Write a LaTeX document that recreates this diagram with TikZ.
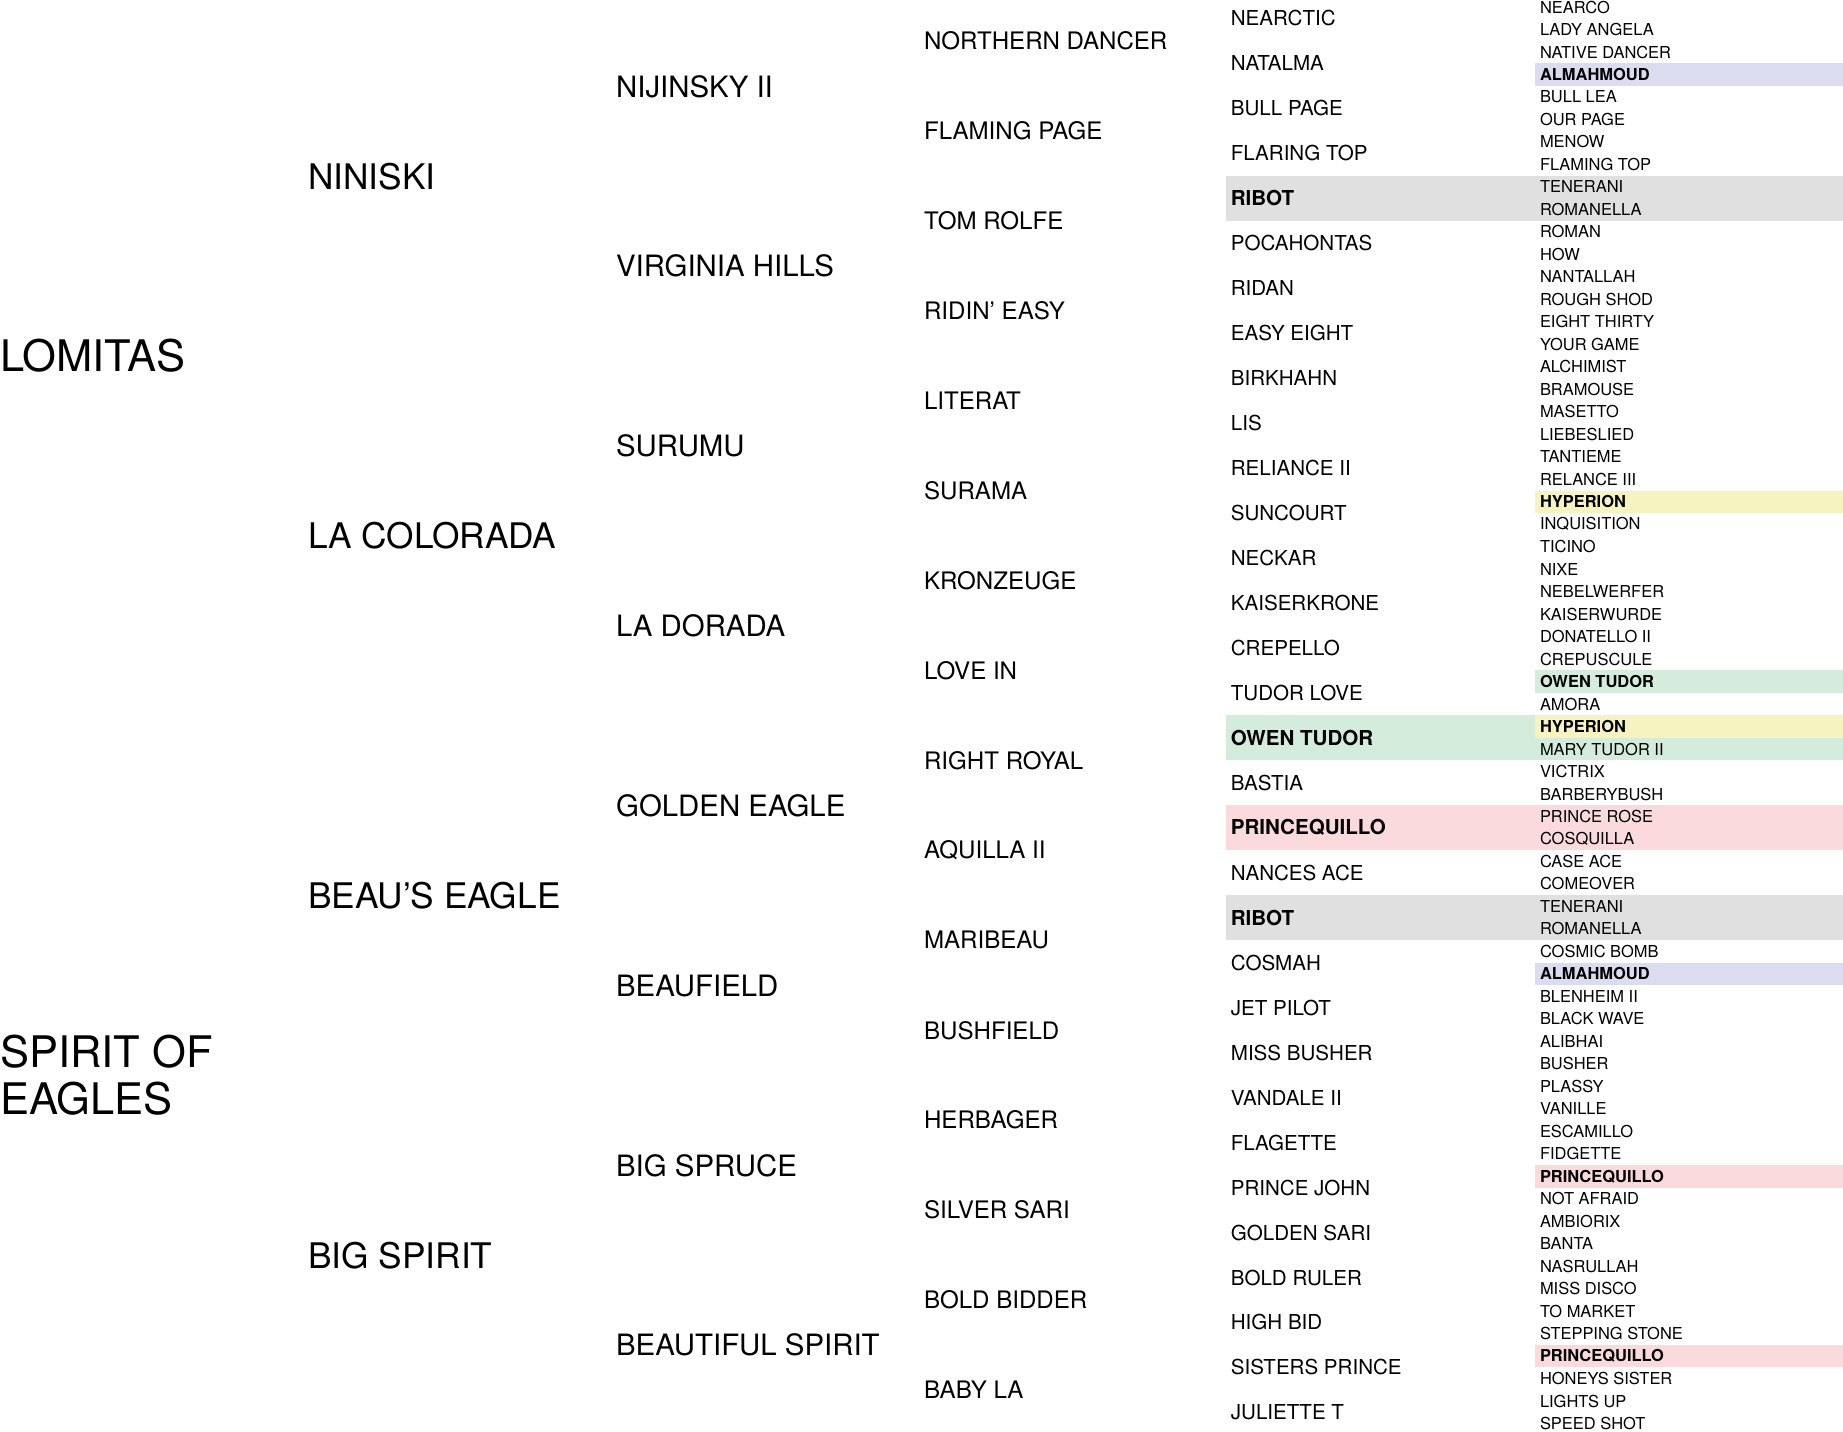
\documentclass[tikz,border=0pt]{standalone}
\usepackage{fontspec}
\setmainfont{TeX Gyre Heros}
\definecolor{hlgray}{HTML}{E0E0E0}
\definecolor{hlblue}{HTML}{DCDCF0}
\definecolor{hlyellow}{HTML}{F7F3C0}
\definecolor{hlgreen}{HTML}{D3ECDB}
\definecolor{hlpink}{HTML}{FADADD}
\tikzset{
  horse/.style={anchor=west, inner sep=0pt, font=#1},
}
\begin{document}
\begin{tikzpicture}[x=1pt,y=-1pt]
\useasboundingbox (0,0) rectangle (1568,1218);
% highlighted cells
\fill[hlgray] (1043,{4*38.26-3.5}) rectangle (1568,{5*38.26-3.5});
\fill[hlgray] (1043,{20*38.26-3.5}) rectangle (1568,{21*38.26-3.5});
\fill[hlgreen] (1043,{16*38.26-3.5}) rectangle (1306,{17*38.26-3.5});
\fill[hlpink] (1043,{18*38.26-3.5}) rectangle (1568,{19*38.26-3.5});
\foreach \r/\c in {3/hlblue,22/hlyellow,30/hlgreen,32/hlyellow,33/hlgreen,43/hlblue,52/hlpink,60/hlpink}
  \fill[\c] (1306,{\r*19.13-3.5}) rectangle (1568,{(\r+1)*19.13-3.5});
% generation 1
\node[horse={\fontsize{37}{40}\selectfont}] (lomitas) at (0,303) {LOMITAS};
\node[horse={\fontsize{37}{40}\selectfont}, align=left] (spirit) at (0,915) {SPIRIT OF\\EAGLES};
% generation 2
\foreach \n [count=\i from 0] in {NINISKI,LA COLORADA,BEAU’S EAGLE,BIG SPIRIT}
  \node[horse={\fontsize{30}{32}\selectfont}] (g2-\i) at (262,{150+306*\i}) {\n};
% generation 3
\foreach \n [count=\i from 0] in {NIJINSKY II,VIRGINIA HILLS,SURUMU,LA DORADA,GOLDEN EAGLE,BEAUFIELD,BIG SPRUCE,BEAUTIFUL SPIRIT}
  \node[horse={\fontsize{25}{28}\selectfont}] (g3-\i) at (524,{73.5+153*\i}) {\n};
% generation 4
\foreach \n [count=\i from 0] in {NORTHERN DANCER,FLAMING PAGE,TOM ROLFE,RIDIN’ EASY,LITERAT,SURAMA,KRONZEUGE,LOVE IN,RIGHT ROYAL,AQUILLA II,MARIBEAU,BUSHFIELD,HERBAGER,SILVER SARI,BOLD BIDDER,BABY LA}
  \node[horse={\fontsize{20.5}{23}\selectfont}] (g4-\i) at (786,{35+76.5*\i}) {\n};
% generation 5
\foreach \n [count=\i from 0] in {NEARCTIC,NATALMA,BULL PAGE,FLARING TOP,\textbf{RIBOT},POCAHONTAS,RIDAN,EASY EIGHT,BIRKHAHN,LIS,RELIANCE II,SUNCOURT,NECKAR,KAISERKRONE,CREPELLO,TUDOR LOVE,\textbf{OWEN TUDOR},BASTIA,\textbf{PRINCEQUILLO},NANCES ACE,\textbf{RIBOT},COSMAH,JET PILOT,MISS BUSHER,VANDALE II,FLAGETTE,PRINCE JOHN,GOLDEN SARI,BOLD RULER,HIGH BID,SISTERS PRINCE,JULIETTE T}
  \node[horse={\fontsize{17.5}{20}\selectfont}] (g5-\i) at (1047,{15.6+38.26*\i}) {\n};
% generation 6
\foreach \n [count=\i from 0] in {NEARCO,LADY ANGELA,NATIVE DANCER,\textbf{ALMAHMOUD},BULL LEA,OUR PAGE,MENOW,FLAMING TOP,TENERANI,ROMANELLA,ROMAN,HOW,NANTALLAH,ROUGH SHOD,EIGHT THIRTY,YOUR GAME,ALCHIMIST,BRAMOUSE,MASETTO,LIEBESLIED,TANTIEME,RELANCE III,\textbf{HYPERION},INQUISITION,TICINO,NIXE,NEBELWERFER,KAISERWURDE,DONATELLO II,CREPUSCULE,\textbf{OWEN TUDOR},AMORA,\textbf{HYPERION},MARY TUDOR II,VICTRIX,BARBERYBUSH,PRINCE ROSE,COSQUILLA,CASE ACE,COMEOVER,TENERANI,ROMANELLA,COSMIC BOMB,\textbf{ALMAHMOUD},BLENHEIM II,BLACK WAVE,ALIBHAI,BUSHER,PLASSY,VANILLE,ESCAMILLO,FIDGETTE,\textbf{PRINCEQUILLO},NOT AFRAID,AMBIORIX,BANTA,NASRULLAH,MISS DISCO,TO MARKET,STEPPING STONE,\textbf{PRINCEQUILLO},HONEYS SISTER,LIGHTS UP,SPEED SHOT}
  \node[horse={\fontsize{14}{16}\selectfont}] (g6-\i) at (1310,{6+19.13*\i}) {\n};
\end{tikzpicture}
\end{document}
